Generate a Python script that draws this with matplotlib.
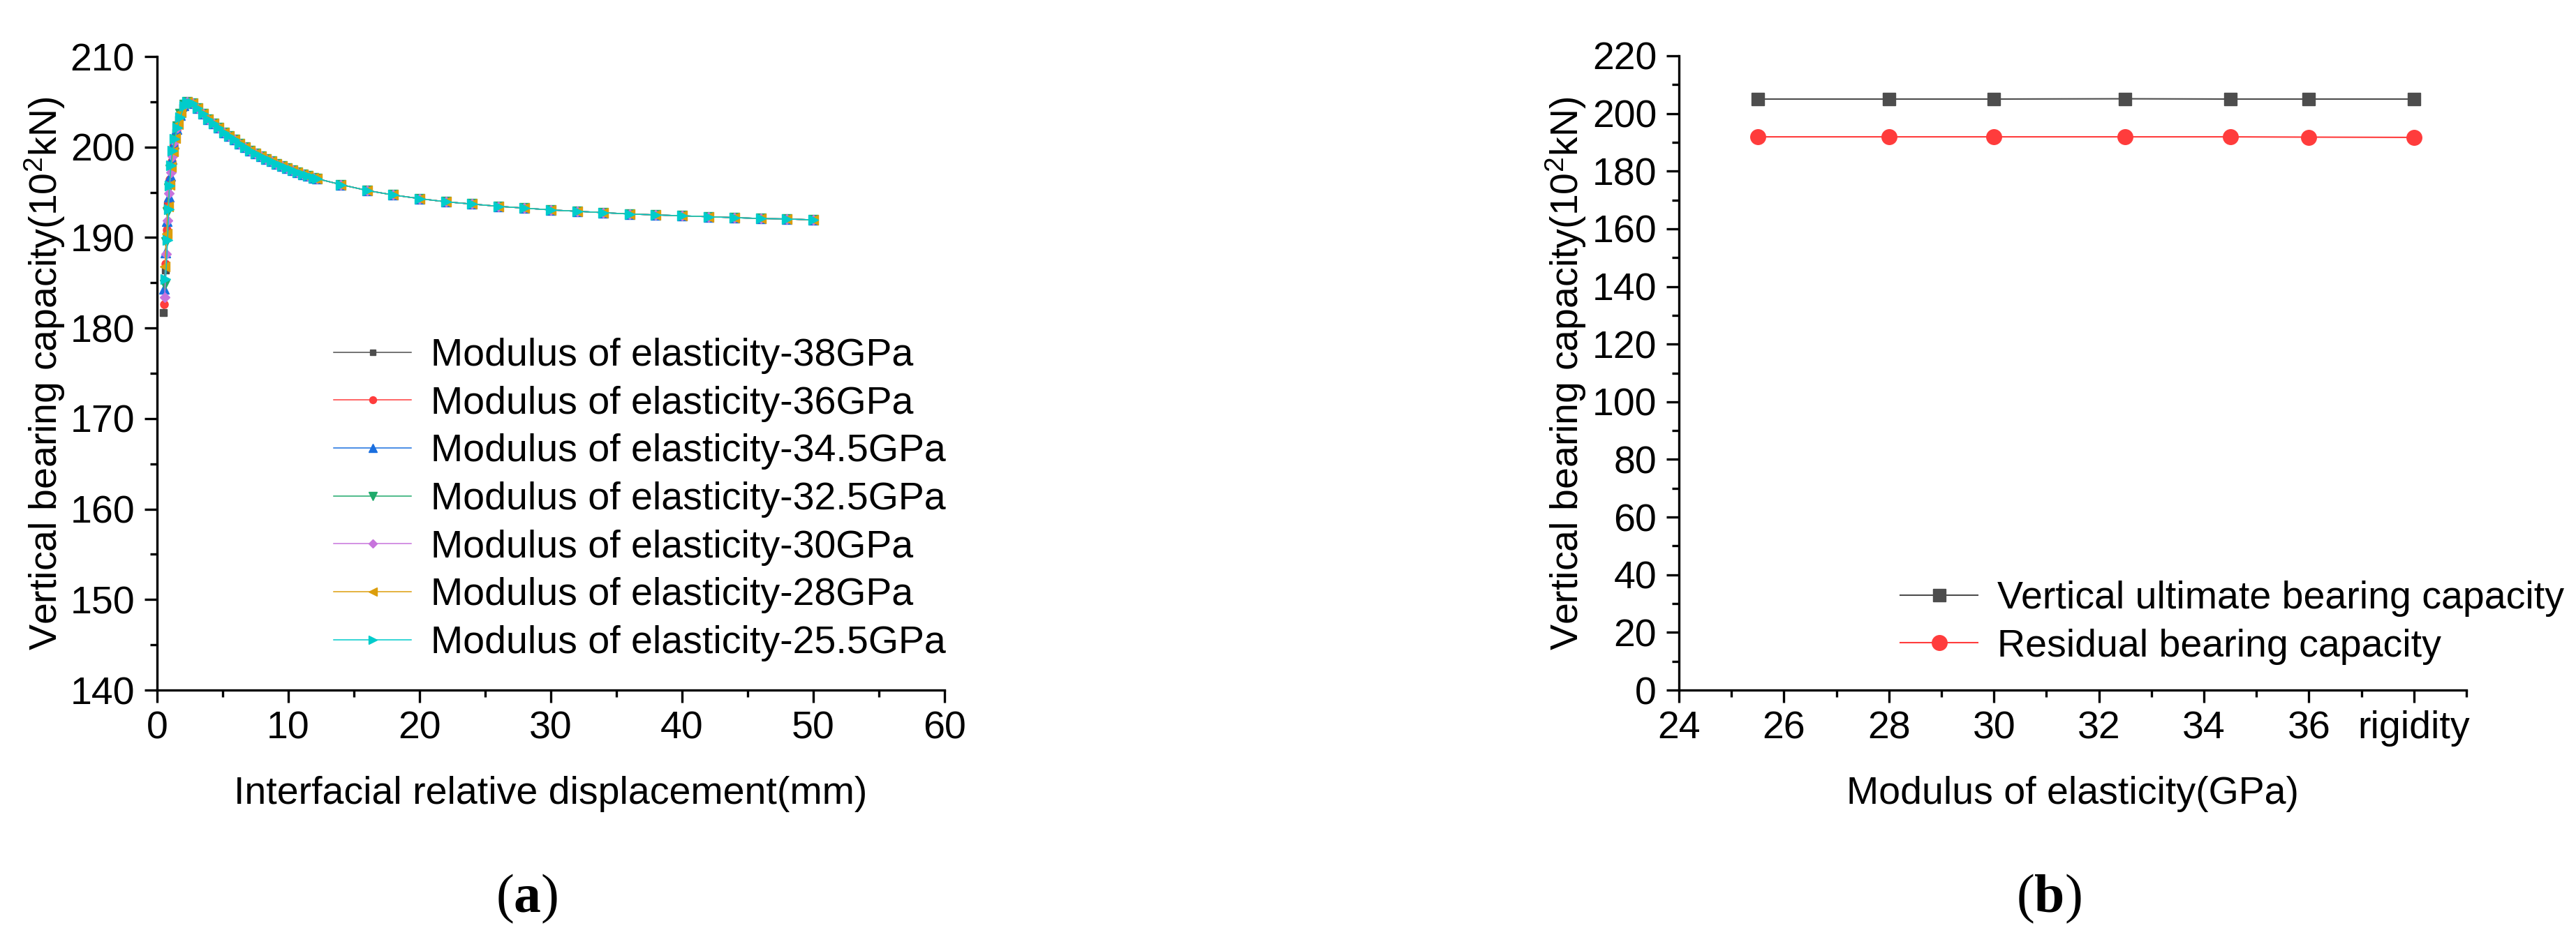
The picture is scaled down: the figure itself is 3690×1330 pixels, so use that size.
import matplotlib
matplotlib.use('Agg')
import matplotlib.pyplot as plt
from matplotlib.ticker import MultipleLocator

plt.rcParams['font.family'] = ['Liberation Sans', 'DejaVu Sans']
plt.rcParams['mathtext.fontset'] = 'custom'
plt.rcParams['mathtext.rm'] = 'Liberation Sans'
plt.rcParams['mathtext.it'] = 'Liberation Sans:italic'
plt.rcParams['mathtext.bf'] = 'Liberation Serif:bold'

# ---- panel (a): load-displacement curves ----
labels_a = ['Modulus of elasticity-38GPa', 'Modulus of elasticity-36GPa',
            'Modulus of elasticity-34.5GPa', 'Modulus of elasticity-32.5GPa',
            'Modulus of elasticity-30GPa', 'Modulus of elasticity-28GPa',
            'Modulus of elasticity-25.5GPa']
colors_a = ['#4d4d4d', '#ff3c3c', '#1a6fdf', '#1faa6b', '#c774dc', '#dc9e0c', '#00cccc']
markers_a = ['s', 'o', '^', 'v', 'D', '<', '>']
msizes_a = [7, 8, 9.5, 9.5, 7, 9.5, 10]

# rising branch, one per series
rise_x = [
    [0.50, 0.62, 0.72, 0.82, 0.93, 1.06, 1.22, 1.42, 1.66, 1.95],
    [0.52, 0.64, 0.75, 0.86, 0.98, 1.12, 1.28, 1.48, 1.72, 2.00],
    [0.54, 0.66, 0.77, 0.88, 1.00, 1.14, 1.30, 1.50, 1.75, 2.02],
    [0.56, 0.68, 0.79, 0.90, 1.02, 1.16, 1.33, 1.53, 1.78, 2.05],
    [0.58, 0.70, 0.80, 0.92, 1.04, 1.18, 1.35, 1.55, 1.80, 2.06],
    [0.60, 0.72, 0.83, 0.95, 1.07, 1.21, 1.38, 1.58, 1.83, 2.08],
    [0.66, 0.80, 0.88, 0.94, 1.06, 1.16, 1.35, 1.55, 1.78, 2.05],
]
rise_y = [
    [181.7, 186.4, 190.5, 193.6, 196.0, 198.0, 199.9, 201.6, 203.1, 204.4],
    [182.6, 187.1, 190.9, 194.0, 196.4, 198.4, 200.2, 201.9, 203.4, 204.6],
    [184.3, 188.3, 191.8, 194.5, 196.8, 198.7, 200.4, 202.0, 203.5, 204.6],
    [184.8, 189.5, 192.8, 195.4, 197.5, 199.2, 200.8, 202.3, 203.7, 204.7],
    [183.4, 188.2, 191.9, 194.9, 197.2, 199.0, 200.6, 202.1, 203.6, 204.6],
    [186.8, 190.4, 193.4, 195.8, 197.8, 199.5, 201.0, 202.5, 203.8, 204.8],
    [185.4, 189.7, 193.1, 195.7, 198.0, 199.6, 200.9, 202.1, 203.3, 204.5],
]

# softening branch (dense output, common to all series)
soft_x = [2.3, 2.7, 3.1, 3.5, 3.9, 4.3, 4.7, 5.1, 5.5, 5.9, 6.3, 6.7, 7.1,
          7.5, 7.9, 8.3, 8.7, 9.1, 9.5, 9.9, 10.3, 10.7, 11.1, 11.5, 11.9, 12.2]
soft_y = [205.0, 204.8, 204.3, 203.7, 203.1, 202.6, 202.1, 201.6, 201.2, 200.8,
          200.4, 200.0, 199.6, 199.3, 199.0, 198.7, 198.4, 198.1, 197.9, 197.7,
          197.4, 197.2, 197.0, 196.8, 196.6, 196.5]

# residual tail, every 2 mm
tail_x = [14, 16, 18, 20, 22, 24, 26, 28, 30, 32, 34, 36, 38, 40, 42, 44, 46, 48, 50]
tail_y = [195.85, 195.2, 194.7, 194.3, 193.95, 193.7, 193.45, 193.25, 193.05, 192.9,
          192.75, 192.6, 192.5, 192.4, 192.3, 192.2, 192.1, 192.05, 191.95]

# ---- panel (b): capacity vs modulus ----
modulus = [25.5, 28, 30, 32.5, 34.5, 36, 38]
ultimate = [205.0, 205.0, 205.0, 205.1, 205.0, 205.0, 205.0]
residual = [191.9, 191.9, 191.9, 191.9, 191.9, 191.8, 191.7]
xticks_b = [24, 26, 28, 30, 32, 34, 36, 38]
xticklabels_b = ['24', '26', '28', '30', '32', '34', '36', 'rigidity']

W, H = 3691, 1330
FS = 40
fig = plt.figure(figsize=(W / 100, H / 100), dpi=100)
ax1 = fig.add_axes([225 / W, 1 - 989 / H, (1353 - 225) / W, (989 - 81) / H])
ax2 = fig.add_axes([2405 / W, 1 - 989 / H, (3533 - 2405) / W, (989 - 80) / H])

for ax in (ax1, ax2):
    ax.spines['top'].set_visible(False)
    ax.spines['right'].set_visible(False)
    for s in ('left', 'bottom'):
        ax.spines[s].set_linewidth(2.4)
    ax.tick_params(which='major', direction='out', length=13, width=2.4,
                   labelsize=FS, pad=8)
    ax.tick_params(which='minor', direction='out', length=7, width=2.4)
    ax.tick_params(axis='y', which='major', pad=10)

for i in range(len(labels_a)):
    xs = rise_x[i] + soft_x + tail_x
    ys = rise_y[i] + soft_y + tail_y
    ax1.plot(xs, ys, color=colors_a[i], lw=1.1, marker=markers_a[i], ms=msizes_a[i],
             mec=colors_a[i], mfc=colors_a[i], label=labels_a[i])

ax1.set_xlim(0, 60)
ax1.set_ylim(140, 210)
ax1.xaxis.set_major_locator(MultipleLocator(10))
ax1.xaxis.set_minor_locator(MultipleLocator(5))
ax1.yaxis.set_major_locator(MultipleLocator(10))
ax1.yaxis.set_minor_locator(MultipleLocator(5))
ax1.set_xlabel('Interfacial relative displacement(mm)', fontsize=FS, va='center')
ax1.set_ylabel('Vertical bearing capacity(10$^{2}$kN)', fontsize=FS, va='center')
ax1.xaxis.set_label_coords(789 / W, 1 - 1138 / H, transform=fig.transFigure)
ax1.yaxis.set_label_coords(64 / W, 1 - 535 / H, transform=fig.transFigure)
leg1 = ax1.legend(loc='upper left', bbox_to_anchor=(478 / W, 1 - 484 / H),
                  bbox_transform=fig.transFigure, frameon=False, fontsize=FS,
                  handlelength=2.0, handletextpad=0.5, labelspacing=0.3,
                  borderpad=0, borderaxespad=0, numpoints=1, markerscale=0.9)

ax2.plot(modulus, ultimate, color='#4d4d4d', lw=1.5, marker='s', ms=13.5,
         label='Vertical ultimate bearing capacity')
ax2.plot(modulus, residual, color='#ff3c3c', lw=1.5, marker='o', ms=15.5,
         label='Residual bearing capacity')
ax2.set_xlim(24, 39)
ax2.set_ylim(0, 220)
ax2.set_xticks(xticks_b)
ax2.set_xticklabels(xticklabels_b)
ax2.xaxis.set_minor_locator(MultipleLocator(1))
ax2.yaxis.set_major_locator(MultipleLocator(20))
ax2.yaxis.set_minor_locator(MultipleLocator(10))
ax2.set_xlabel('Modulus of elasticity(GPa)', fontsize=FS, va='center')
ax2.set_ylabel('Vertical bearing capacity(10$^{2}$kN)', fontsize=FS, va='center')
ax2.xaxis.set_label_coords(2969 / W, 1 - 1138 / H, transform=fig.transFigure)
ax2.yaxis.set_label_coords(2243 / W, 1 - 535 / H, transform=fig.transFigure)
ax2.legend(loc='upper left', bbox_to_anchor=(2722 / W, 1 - 832 / H),
           bbox_transform=fig.transFigure, frameon=False, fontsize=FS,
           handlelength=2.0, handletextpad=0.5, labelspacing=0.3,
           borderpad=0, borderaxespad=0, numpoints=1)

fig.text(755 / W, 1 - 1288 / H, r'($\mathbf{a}$)', family='Liberation Serif',
         fontsize=56, ha='center', va='center')
fig.text(2935 / W, 1 - 1288 / H, r'($\mathbf{b}$)', family='Liberation Serif',
         fontsize=56, ha='center', va='center')

fig.savefig('out.png', dpi=100)
